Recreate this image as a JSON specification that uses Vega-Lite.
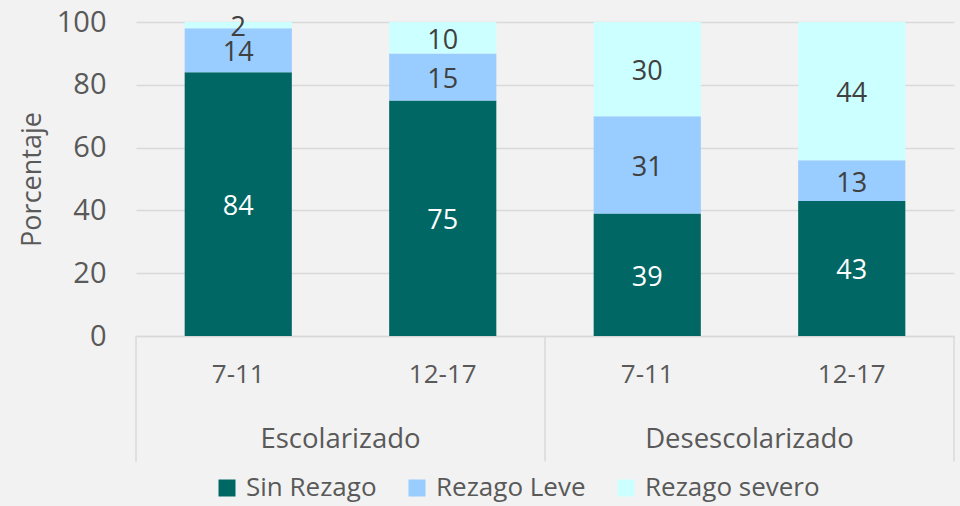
{
  "$schema": "https://vega.github.io/schema/vega-lite/v6.json",
  "width": 818,
  "height": 314,
  "autosize": {"type": "none"},
  "padding": {"left": 136, "top": 22, "right": 6, "bottom": 170},
  "background": "#f2f2f2",
  "config": {
    "view": {"stroke": null},
    "font": "Open Sans",
    "text": {"font": "Open Sans"}
  },
  "datasets": {
    "datos": [
      {"cat": "Escolarizado|7-11", "serie": "Sin Rezago", "valor": 84},
      {"cat": "Escolarizado|7-11", "serie": "Rezago Leve", "valor": 14},
      {"cat": "Escolarizado|7-11", "serie": "Rezago severo", "valor": 2},
      {"cat": "Escolarizado|12-17", "serie": "Sin Rezago", "valor": 75},
      {"cat": "Escolarizado|12-17", "serie": "Rezago Leve", "valor": 15},
      {"cat": "Escolarizado|12-17", "serie": "Rezago severo", "valor": 10},
      {"cat": "Desescolarizado|7-11", "serie": "Sin Rezago", "valor": 39},
      {"cat": "Desescolarizado|7-11", "serie": "Rezago Leve", "valor": 31},
      {"cat": "Desescolarizado|7-11", "serie": "Rezago severo", "valor": 30},
      {"cat": "Desescolarizado|12-17", "serie": "Sin Rezago", "valor": 43},
      {"cat": "Desescolarizado|12-17", "serie": "Rezago Leve", "valor": 13},
      {"cat": "Desescolarizado|12-17", "serie": "Rezago severo", "valor": 44}
    ],
    "grupos": [
      {"cat": "Escolarizado|7-11", "grupo": "Escolarizado"},
      {"cat": "Desescolarizado|7-11", "grupo": "Desescolarizado"}
    ],
    "fin": [
      {"cat": "Desescolarizado|12-17"}
    ]
  },
  "encoding": {
    "x": {
      "field": "cat",
      "type": "nominal",
      "scale": {
        "domain": ["Escolarizado|7-11", "Escolarizado|12-17", "Desescolarizado|7-11", "Desescolarizado|12-17"],
        "paddingInner": 0,
        "paddingOuter": 0
      },
      "axis": {
        "title": null,
        "labelExpr": "split(datum.label, '|')[1]",
        "labelAngle": 0,
        "labelFontSize": 26,
        "labelColor": "#595959",
        "labelPadding": 25,
        "ticks": false,
        "domainColor": "#d9d9d9",
        "domainWidth": 1.5
      }
    }
  },
  "layer": [
    {
      "data": {"name": "datos"},
      "transform": [
        {"stack": "valor", "groupby": ["cat"], "as": ["v0", "v1"]}
      ],
      "layer": [
        {
          "mark": {"type": "bar", "width": {"band": 0.524}},
          "encoding": {
            "y": {
              "field": "v1",
              "type": "quantitative",
              "scale": {"domain": [0, 100], "nice": false},
              "axis": {
                "title": "Porcentaje",
                "titleFontSize": 27,
                "titleFontWeight": "normal",
                "titleColor": "#595959",
                "titlePadding": 10,
                "values": [0, 20, 40, 60, 80, 100],
                "labelFontSize": 29,
                "labelColor": "#595959",
                "labelPadding": 30,
                "ticks": false,
                "domain": false,
                "gridColor": "#d9d9d9",
                "gridWidth": 1.5
              }
            },
            "y2": {"field": "v0"},
            "color": {
              "field": "serie",
              "type": "nominal",
              "scale": {
                "domain": ["Sin Rezago", "Rezago Leve", "Rezago severo"],
                "range": ["#006764", "#99ccff", "#ccffff"]
              },
              "legend": {
                "title": null,
                "orient": "none",
                "direction": "horizontal",
                "legendX": 78,
                "legendY": 453,
                "symbolType": "square",
                "symbolSize": 289,
                "symbolStrokeWidth": 0,
                "labelFontSize": 26,
                "labelColor": "#595959",
                "labelOffset": 6,
                "labelLimit": 0,
                "columnPadding": 27
              }
            }
          }
        },
        {
          "transform": [
            {"fold": ["v0", "v1"], "as": ["extremo", "pos"]}
          ],
          "mark": {"type": "text", "fontSize": 27, "baseline": "middle", "dy": 3},
          "encoding": {
            "y": {"field": "pos", "type": "quantitative", "aggregate": "mean", "stack": null},
            "detail": {"field": "serie"},
            "text": {"field": "valor", "type": "quantitative"},
            "color": {
              "condition": {"test": "datum.serie == 'Sin Rezago'", "value": "#ffffff"},
              "value": "#404040"
            }
          }
        }
      ]
    },
    {
      "data": {"name": "grupos"},
      "layer": [
        {
          "mark": {"type": "rule", "color": "#d9d9d9", "strokeWidth": 1.5},
          "encoding": {
            "x": {"field": "cat", "type": "nominal", "bandPosition": 0},
            "y": {"datum": 0, "type": "quantitative"},
            "y2": {"datum": -40}
          }
        },
        {
          "mark": {"type": "text", "fontSize": 27.5, "color": "#595959", "baseline": "middle"},
          "encoding": {
            "x": {"field": "cat", "type": "nominal", "bandPosition": 1},
            "y": {"datum": -33, "type": "quantitative"},
            "text": {"field": "grupo"}
          }
        }
      ]
    },
    {
      "data": {"name": "fin"},
      "mark": {"type": "rule", "color": "#d9d9d9", "strokeWidth": 1.5},
      "encoding": {
        "x": {"field": "cat", "type": "nominal", "bandPosition": 1},
        "y": {"datum": 0, "type": "quantitative"},
        "y2": {"datum": -40}
      }
    }
  ]
}
